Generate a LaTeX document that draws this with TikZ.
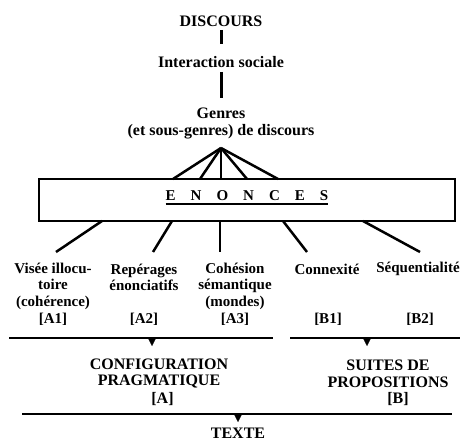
\documentclass[tikz,border=0pt]{standalone}
\usepackage{fontspec}
\setmainfont{Liberation Serif}
\usetikzlibrary{arrows.meta}
\begin{document}
\begin{tikzpicture}[x=1pt,y=-1pt,
  font=\bfseries\fontsize{15}{16.6}\selectfont,
  lbl/.style={align=center, inner sep=0pt},
  big/.style={lbl, font=\bfseries\fontsize{16}{16.6}\selectfont},
  stem/.style={line width=3pt},
  fan/.style={line width=2.5pt},
  rule/.style={line width=2pt},
  tri/.style={-{Triangle[width=8pt,length=8pt]}, line width=0.1pt}]
\useasboundingbox (0,0) rectangle (461,441);
% top chain
\node[big] (disc) at (221,21) {DISCOURS};
\node[big] (inter) at (221,62) {Interaction sociale};
\node[big] (genres) at (221,123.5) {Genres\\(et sous-genres) de discours};
\draw[stem] (221,30) coordinate (s1) -- (221,44) coordinate (s2);
\draw[stem] (221,72) coordinate (s3) -- (221,98) coordinate (s4);
% box
\node[draw, line width=2pt, minimum width=416pt, minimum height=42pt, inner sep=0pt] (box) at (247,200) {};
\node[lbl] (enon) at (247,196) {E\hspace{15pt}N\hspace{15pt}O\hspace{15pt}N\hspace{15pt}C\hspace{15pt}E\hspace{15pt}S};
\draw[line width=1.5pt] ([yshift=-3pt]enon.south west) -- ([yshift=-3pt]enon.south east);
% fan above
\coordinate (apex) at (221,148);
\foreach \x [count=\i] in {173,200,221,247,278}
  \draw[fan] (apex) -- (\x,179) coordinate (t\i);
% labels
\node[lbl] (a1) at (53,294) {Visée illocu-\\toire\\(cohérence)\\{}[A1]};
\node[lbl] (a2) at (144,277.5) {Repérages\\énonciatifs};
\node[lbl] (a2b) at (144,319) {[A2]};
\node[lbl] (a3) at (235,294) {Cohésion\\sémantique\\(mondes)\\{}[A3]};
\node[lbl] (b1) at (327,269) {Connexité};
\node[lbl] (b1b) at (328,319) {[B1]};
\node[lbl] (b2) at (418,269) {Séquentialité};
\node[lbl] (b2b) at (420,319) {[B2]};
% fan below
\draw[fan] (102,221) coordinate (u1) -- (56,252) coordinate (v1);
\draw[fan] (172,221) coordinate (u2) -- (153,252) coordinate (v2);
\draw[fan] (220,221) coordinate (u3) -- (220,252) coordinate (v3);
\draw[fan] (283,221) coordinate (u4) -- (307,252) coordinate (v4);
\draw[fan] (363,221) coordinate (u5) -- (420,252) coordinate (v5);
% horizontal rules
\draw[rule] (9,338) coordinate (ha1) -- (273,338) coordinate (ha2);
\draw[rule] (290,338) coordinate (hb1) -- (460,338) coordinate (hb2);
\coordinate (ta) at (152,337.5);
\coordinate (tb) at (367,337.5);
\draw[tri] (ta) -- ++(0,8.5);
\draw[tri] (tb) -- ++(0,8.5);
\node[big] (ca) at (159,373.5) {CONFIGURATION\\PRAGMATIQUE};
\node[big] (cab) at (162.5,399) {[A]};
\node[big] (cb) at (388,373.5) {SUITES DE\\PROPOSITIONS};
\node[big] (cbb) at (398,399) {[B]};
\draw[rule] (22,414) coordinate (hc1) -- (452,414) coordinate (hc2);
\coordinate (tc) at (238,413.5);
\draw[tri] (tc) -- ++(0,8.5);
\node[big] (texte) at (238,433) {TEXTE};
\end{tikzpicture}
\end{document}
